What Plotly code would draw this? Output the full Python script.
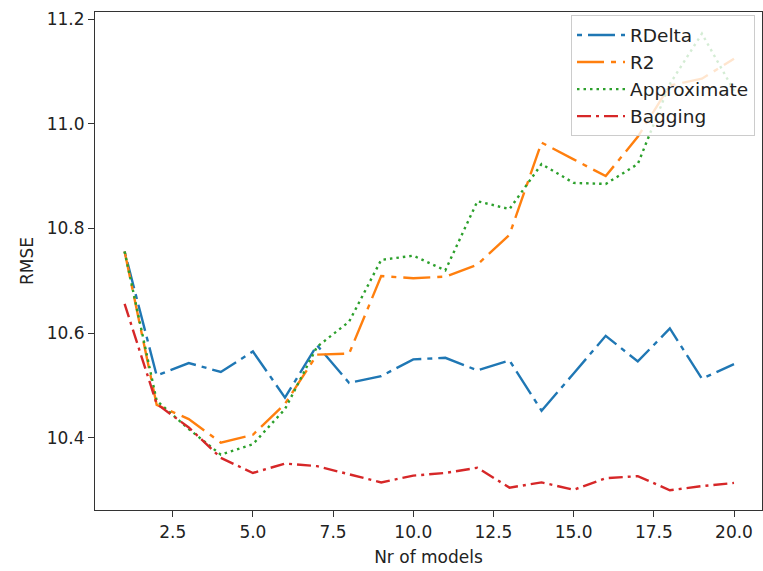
import plotly.graph_objects as go

n_models = list(range(1, 21))
rdelta = [10.756, 10.519, 10.543, 10.526, 10.565, 10.477, 10.577, 10.505, 10.518, 10.550,
          10.553, 10.529, 10.548, 10.452, 10.523, 10.595, 10.546, 10.609, 10.513, 10.541]
r2 = [10.756, 10.463, 10.436, 10.391, 10.406, 10.465, 10.559, 10.561, 10.709, 10.705,
      10.708, 10.731, 10.788, 10.964, 10.932, 10.900, 10.975, 11.073, 11.086, 11.124]
approximate = [10.756, 10.471, 10.417, 10.368, 10.388, 10.455, 10.574, 10.622, 10.740, 10.748,
               10.720, 10.852, 10.837, 10.923, 10.887, 10.885, 10.923, 11.076, 11.172, 11.063]
bagging = [10.656, 10.465, 10.420, 10.362, 10.333, 10.351, 10.346, 10.330, 10.315, 10.328,
           10.333, 10.343, 10.305, 10.315, 10.301, 10.323, 10.327, 10.300, 10.308, 10.314]

series = [
    ("RDelta", rdelta, "#1f77b4", "5px,6px,27px,6px"),
    ("R2", r2, "#ff7f0e", "27px,7px,5px,7px"),
    ("Approximate", approximate, "#2ca02c", "2.5px,4px"),
    ("Bagging", bagging, "#d62728", "14px,5px,3px,5px"),
]

FONT = "DejaVu Sans"
fig = go.Figure()
for name, vals, color, dash in series:
    fig.add_trace(go.Scatter(x=n_models, y=vals, mode="lines", name=name,
                             line=dict(color=color, width=2.4, dash=dash)))

axis_common = dict(showline=True, mirror=True, linecolor="#333333", linewidth=1.2,
                   showgrid=False, zeroline=False, ticks="outside", ticklen=6,
                   tickcolor="#333333", tickwidth=1.2,
                   tickfont=dict(family=FONT, size=17, color="#222222"))

fig.update_layout(
    width=763, height=571,
    margin=dict(l=95, r=1, t=12, b=61),
    plot_bgcolor="white", paper_bgcolor="white",
    font=dict(family=FONT, size=17, color="#222222"),
    xaxis=dict(range=[0.077, 20.873], tickvals=[2.5, 5, 7.5, 10, 12.5, 15, 17.5, 20],
               ticktext=["2.5", "5.0", "7.5", "10.0", "12.5", "15.0", "17.5", "20.0"],
               title=dict(text="Nr of models", font=dict(family=FONT, size=17), standoff=10),
               **axis_common),
    yaxis=dict(range=[10.2623, 11.2134], tickvals=[10.4, 10.6, 10.8, 11.0, 11.2],
               ticktext=["10.4", "10.6", "10.8", "11.0", "11.2"],
               title=dict(text="RMSE", font=dict(family=FONT, size=17), standoff=8),
               **axis_common),
    legend=dict(x=0.9895, y=0.993, xanchor="right", yanchor="top", itemwidth=48,
                bgcolor="rgba(255,255,255,0.8)", bordercolor="#cccccc", borderwidth=1,
                font=dict(family=FONT, size=18.5, color="#222222")),
    showlegend=True,
)

fig.write_html("out.html")
